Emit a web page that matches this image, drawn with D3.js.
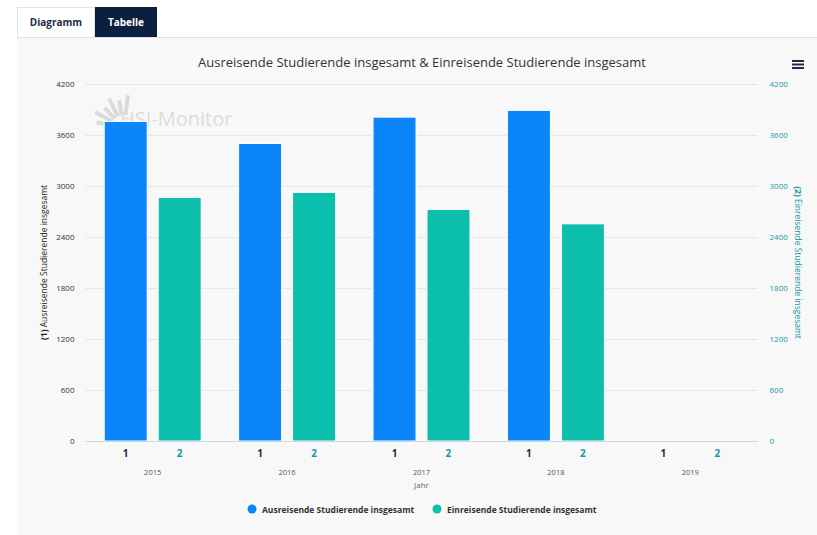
<!DOCTYPE html>
<html>
<head>
<meta charset="utf-8">
<script src="https://cdn.jsdelivr.net/npm/d3@7"></script>
<style>
    body { margin: 0; background: #fff; font-family: "Open Sans", "Noto Sans", sans-serif; }
    svg { display: block; }
</style>
</head>
<body>
<svg id="chart" width="817" height="535"></svg>
<script>
'use strict';

var years = ['2015', '2016', '2017', '2018', '2019']
var seriesKeys = ['1', '2']
var seriesNames = ['Ausreisende Studierende insgesamt', 'Einreisende Studierende insgesamt']
var ausreisende = [3760, 3500, 3810, 3890, null]
var einreisende = [2865, 2925, 2725, 2555, null]
var yTicks = [0, 600, 1200, 1800, 2400, 3000, 3600, 4200]

var chart = (function() {
    var svg = d3.select('#chart')
    var blue = '#0a85fa'
    var teal = '#0bbfac'
    var tealText = '#1797a3'

    var left = 85.5, right = 757.5, top = 84, bottom = 441

    function drawFrame() {
        // panel + tabs
        svg.append('rect').attr('x', 17).attr('y', 37).attr('width', 800).attr('height', 498)
            .attr('fill', '#f8f8f8')
        svg.append('line').attr('x1', 17).attr('x2', 817).attr('y1', 37.5).attr('y2', 37.5)
            .attr('stroke', '#dde2ea')
        svg.append('rect').attr('x', 17.5).attr('y', 7.5).attr('width', 77).attr('height', 30)
            .attr('fill', '#fff').attr('stroke', '#dde2ea')
        svg.append('rect').attr('x', 95).attr('y', 7).attr('width', 62).attr('height', 30)
            .attr('fill', '#0b1f40')
        svg.append('text').attr('x', 56).attr('y', 26).attr('text-anchor', 'middle')
            .attr('font-size', 10).attr('font-weight', 'bold').attr('fill', '#1c2a44').text('Diagramm')
        svg.append('text').attr('x', 126).attr('y', 26).attr('text-anchor', 'middle')
            .attr('font-size', 10).attr('font-weight', 'bold').attr('fill', '#fff').text('Tabelle')

        svg.append('text').attr('x', 422).attr('y', 67).attr('text-anchor', 'middle')
            .attr('font-size', 13).attr('fill', '#333').text(seriesNames[0] + ' & ' + seriesNames[1])

        // hamburger menu
        var menu = svg.append('g').attr('stroke', '#1c2a44').attr('stroke-width', 2)
        ;[61, 64.5, 68].forEach(function(y) {
            menu.append('line').attr('x1', 792).attr('x2', 804).attr('y1', y).attr('y2', y)
        })
    }

    function drawWatermark() {
        var g = svg.append('g')
        var cx = 124, cy = 128
        for (var i = 0; i < 6; i++) {
            var a = (192 + i * 17) * Math.PI / 180
            var r1 = 13, r2 = 28 + (i % 2) * 5
            g.append('line')
                .attr('x1', cx + r1 * Math.cos(a)).attr('y1', cy + r1 * Math.sin(a))
                .attr('x2', cx + r2 * Math.cos(a)).attr('y2', cy + r2 * Math.sin(a))
                .attr('stroke', '#dadada').attr('stroke-width', 4)
        }
        g.append('text').attr('x', 120).attr('y', 126).attr('font-size', 20)
            .attr('fill', '#dcdcdc').text('HSI-Monitor')
    }

    function render() {
        drawFrame()

        var y = d3.scaleLinear().domain([0, 4200]).range([bottom, top])
        var x = d3.scaleBand().domain(years).range([left, right])
        var xInner = d3.scaleBand().domain(seriesKeys).range([0, x.bandwidth()])
            .paddingInner(0.2037).paddingOuter(0.347)

        // grid
        svg.append('g').selectAll('line').data(yTicks.slice(1)).enter().append('line')
            .attr('x1', left).attr('x2', right)
            .attr('y1', function(d) { return Math.round(y(d)) + 0.5 })
            .attr('y2', function(d) { return Math.round(y(d)) + 0.5 })
            .attr('stroke', '#e6e6e6')

        drawWatermark()

        // left axis
        var leftAxis = svg.append('g').attr('transform', 'translate(' + (left - 11) + ',0)')
            .call(d3.axisLeft(y).tickValues(yTicks).tickFormat(d3.format('d')).tickSize(0).tickPadding(0))
        leftAxis.select('.domain').remove()
        leftAxis.selectAll('text').attr('font-size', 8).attr('fill', '#333')
            .attr('font-family', '"Open Sans", sans-serif')

        var rightAxis = svg.append('g').attr('transform', 'translate(' + (right + 12) + ',0)')
            .call(d3.axisRight(y).tickValues(yTicks).tickFormat(d3.format('d')).tickSize(0).tickPadding(0))
        rightAxis.select('.domain').remove()
        rightAxis.selectAll('text').attr('font-size', 8).attr('fill', tealText)
            .attr('font-family', '"Open Sans", sans-serif')

        // axis titles
        var lt = svg.append('text').attr('transform', 'translate(47,' + ((top + bottom) / 2) + ') rotate(-90)')
            .attr('text-anchor', 'middle').attr('font-size', 8.5).attr('fill', '#222')
        lt.append('tspan').attr('font-weight', 'bold').text('(1)')
        lt.append('tspan').text(' ' + seriesNames[0])

        var rt = svg.append('text').attr('transform', 'translate(795,' + ((top + bottom) / 2) + ') rotate(90)')
            .attr('text-anchor', 'middle').attr('font-size', 8.5).attr('fill', tealText)
        rt.append('tspan').attr('font-weight', 'bold').text('(2)')
        rt.append('tspan').text(' ' + seriesNames[1])

        // bars
        var rows = years.map(function(yr, i) {
            return { year: yr, values: [ausreisende[i], einreisende[i]] }
        })
        var groups = svg.append('g').selectAll('g').data(rows).enter().append('g')
            .attr('transform', function(d) { return 'translate(' + x(d.year) + ',0)' })
        groups.selectAll('rect')
            .data(function(d) { return d.values.map(function(v, k) { return { key: seriesKeys[k], value: v } }) })
            .enter().filter(function(d) { return d.value != null }).append('rect')
            .attr('x', function(d) { return xInner(d.key) })
            .attr('width', xInner.bandwidth())
            .attr('y', function(d) { return y(d.value) })
            .attr('height', function(d) { return bottom - y(d.value) })
            .attr('fill', function(d) { return d.key === '1' ? blue : teal })
            .attr('stroke', '#fff').attr('stroke-width', 1)

        // x axis line
        svg.append('line').attr('x1', left).attr('x2', right).attr('y1', bottom + 0.5).attr('y2', bottom + 0.5)
            .attr('stroke', '#ccd6eb')

        // sub labels 1/2
        groups.selectAll('text.sub').data(seriesKeys).enter().append('text').attr('class', 'sub')
            .attr('x', function(d) { return xInner(d) + xInner.bandwidth() / 2 })
            .attr('y', 457).attr('text-anchor', 'middle')
            .attr('font-size', 10).attr('font-weight', 'bold')
            .attr('fill', function(d) { return d === '1' ? '#1c2a44' : tealText })
            .text(function(d) { return d })

        groups.append('text').attr('x', x.bandwidth() / 2).attr('y', 475).attr('text-anchor', 'middle')
            .attr('font-size', 7.5).attr('fill', '#555').text(function(d) { return d.year })

        svg.append('text').attr('x', (left + right) / 2).attr('y', 488).attr('text-anchor', 'middle')
            .attr('font-size', 8).attr('fill', '#666').text('Jahr')

        // legend
        var legend = svg.append('g')
        var legendX = [252, 437]
        seriesNames.forEach(function(name, i) {
            legend.append('circle').attr('cx', legendX[i]).attr('cy', 509).attr('r', 4.5)
                .attr('fill', i === 0 ? blue : teal)
            legend.append('text').attr('x', legendX[i] + 10).attr('y', 512.5)
                .attr('font-size', 8.5).attr('font-weight', 'bold').attr('fill', '#333').text(name)
        })
    }

    return { render: render }
}())

chart.render()
</script>
</body>
</html>
